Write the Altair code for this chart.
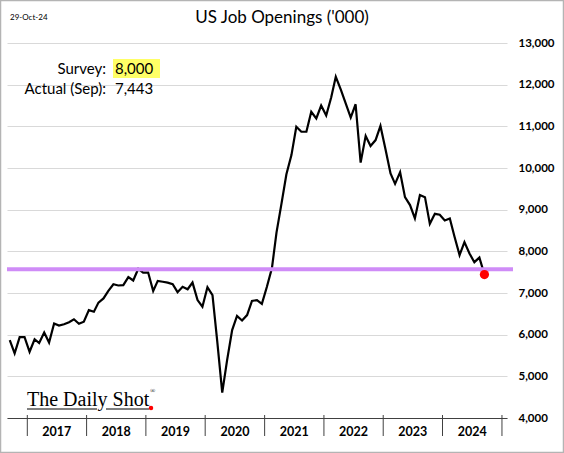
import altair as alt
import pandas as pd

# ---- data (monthly, Sep 2016 .. Sep 2024), thousands ----
start_month = "2016-09-01"
openings = [
    5870, 5550, 5940, 5940,                                              # 2016 Sep-Dec
    5590, 5890, 5800, 6050, 5810, 6270, 6220, 6250, 6300, 6370, 6260, 6310,  # 2017
    6590, 6550, 6770, 6870, 7050, 7210, 7180, 7190, 7380, 7300, 7580, 7490,  # 2018
    7490, 7050, 7290, 7270, 7250, 7210, 7020, 7150, 7090, 7250, 6830, 6670,  # 2019
    7140, 6950, 5850, 4610, 5390, 6110, 6450, 6340, 6470, 6810, 6830, 6740,  # 2020
    7150, 7600, 8450, 9150, 9850, 10310, 10990, 10870, 10870, 11350, 11190, 11500,  # 2021
    11260, 11700, 12190, 11880, 11550, 11210, 11530, 10130, 10770, 10530, 10670, 11010,  # 2022
    10450, 9870, 9620, 9900, 9300, 9110, 8790, 9350, 9300, 8660, 8900, 8880,  # 2023
    8740, 8790, 8350, 7910, 8220, 7950, 7740, 7850, 7443,                # 2024 Jan-Sep
]
reference_level = 7570
year_labels = ["2017", "2018", "2019", "2020", "2021", "2022", "2023", "2024"]
y_ticks = [4000, 5000, 6000, 7000, 8000, 9000, 10000, 11000, 12000, 13000]
title_text = "US Job Openings ('000)"
date_text = "29-Oct-24"
survey_label, survey_value = "Survey:", "8,000"
actual_label, actual_value = "Actual (Sep):", "7,443"

dates = pd.date_range(start_month, periods=len(openings), freq="MS") + pd.Timedelta(days=14)
df = pd.DataFrame({"date": dates, "value": openings})
last_df = df.tail(1)
tick_df = pd.DataFrame({"date": pd.date_range("2017-01-01", "2025-01-01", freq="YS")})
lab_df = pd.DataFrame({"date": pd.to_datetime([f"{y}-07-02" for y in year_labels]), "label": year_labels})

W, H = 500, 375
FONT = "Lato"

xscale = alt.Scale(domain=[alt.DateTime(year=2016, month=8, date=29),
                           alt.DateTime(year=2025, month=2, date=1)])
yscale = alt.Scale(domain=[4000, 13000], nice=False, zero=False)

x_enc = alt.X("date:T", scale=xscale,
              axis=alt.Axis(title=None, labels=False, ticks=False, grid=False,
                            domainColor="#404040", domainWidth=1))
y_enc = alt.Y("value:Q", scale=yscale,
              axis=alt.Axis(orient="right", values=y_ticks, format=",d", title=None,
                            labelFont=FONT, labelFontWeight="bold", labelFontSize=11.5,
                            labelColor="black", labelPadding=11, ticks=False, domain=False,
                            gridColor="#d9d9d9", gridWidth=1))

line = alt.Chart(df).mark_line(color="black", strokeWidth=2.2).encode(x=x_enc, y=y_enc)

ref = alt.Chart(pd.DataFrame({"value": [reference_level]})).mark_rule(
    color="#cf8cf7", strokeWidth=4).encode(y="value:Q", x=alt.value(0), x2=alt.value(W + 6))

dot = alt.Chart(last_df).mark_circle(color="#ff0000", size=85, opacity=1).encode(
    x="date:T", y="value:Q")

ticks = alt.Chart(tick_df).mark_rule(color="#404040", strokeWidth=1).encode(
    x="date:T", y=alt.value(H - 3), y2=alt.value(H + 18))

years = alt.Chart(lab_df).mark_text(font=FONT, fontWeight="bold", fontSize=12.5,
                                    baseline="middle", color="black").encode(
    x="date:T", y=alt.value(H + 14), text="label:N")

def txt(s, x, y, size, align="left", font=FONT, weight="normal", color="black"):
    return alt.Chart(pd.DataFrame({"t": [s]})).mark_text(
        font=font, fontSize=size, align=align, baseline="middle",
        fontWeight=weight, color=color).encode(
        text="t:N", x=alt.value(x), y=alt.value(y))

title = txt(title_text, 275, -25, 17, align="center")
datet = txt(date_text, 3, -25, 8)

highlight = alt.Chart(pd.DataFrame({"a": [0]})).mark_rect(color="#ffff66").encode(
    x=alt.value(106), x2=alt.value(153), y=alt.value(16), y2=alt.value(35))
s_lab = txt(survey_label, 99, 25.5, 15, align="right")
s_val = txt(survey_value, 108, 25.5, 15)
a_lab = txt(actual_label, 99, 45.5, 15, align="right")
a_val = txt(actual_value, 108, 45.5, 15)

logo = txt("The Daily Shot", 20, 357, 20, font="Liberation Serif")
logo_r = txt("®", 143, 348, 7, font="Liberation Serif")
ul1 = alt.Chart(pd.DataFrame({"a": [0]})).mark_rule(color="black", strokeWidth=1).encode(
    x=alt.value(20), x2=alt.value(90), y=alt.value(366))
ul2 = alt.Chart(pd.DataFrame({"a": [0]})).mark_rule(color="black", strokeWidth=1).encode(
    x=alt.value(99), x2=alt.value(142), y=alt.value(366))
logo_dot = alt.Chart(pd.DataFrame({"a": [0]})).mark_circle(color="#ff0000", size=20, opacity=1).encode(
    x=alt.value(144), y=alt.value(365))

frame = alt.Chart(pd.DataFrame({"a": [0]})).mark_rect(
    fillOpacity=0, stroke="#b4b4b4", strokeWidth=1.5).encode(
    x=alt.value(-6.5), x2=alt.value(556.5), y=alt.value(-42.5), y2=alt.value(409.5))

chart = alt.layer(
    line, ref, dot, ticks, years, title, datet, highlight, s_lab, s_val, a_lab, a_val,
    logo, logo_r, ul1, ul2, logo_dot, frame
).properties(
    width=W, height=H,
    autosize=alt.AutoSizeParams(type="none"),
    padding={"left": 7, "top": 43, "right": 57, "bottom": 35},
    background="white",
).configure_view(stroke=None)

chart.save("out.html", embed_options={"renderer": "svg", "actions": False})
